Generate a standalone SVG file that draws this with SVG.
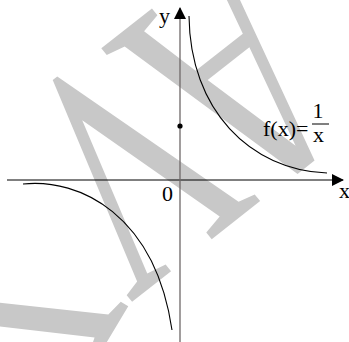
<svg xmlns="http://www.w3.org/2000/svg" width="349" height="342" viewBox="0 0 349 342">
  <defs>
    <style>
      .wm { font-family: "Liberation Serif", "Times New Roman", serif; font-size: 100px; fill: #c8c8c8; }
      .lbl { font-family: "Liberation Serif", "Times New Roman", serif; font-size: 22px; fill: #000; }
      .curve { fill: none; stroke: #000; stroke-width: 1.1; }
    </style>
    <marker id="arrowX" markerWidth="12" markerHeight="12" refX="11" refY="6" orient="auto" markerUnits="userSpaceOnUse">
      <path d="M0,0 L12,6 L0,12 Z" fill="#000"/>
    </marker>
  </defs>
  <rect width="349" height="342" fill="#fff"/>
  <g id="watermark">
    <text class="wm" x="-58.7" y="0" transform="matrix(-1.83 1.44 -2.10 -2.59 124.7 29.9)">A</text>
    <text class="wm" x="0" y="0" transform="matrix(-1.83 1.44 -2.10 -2.59 124.7 29.9)">V</text>
    <text class="wm" x="72.2" y="0" transform="rotate(-21 131 305) matrix(-1.83 1.44 -2.10 -2.59 124.7 29.9)">Y</text>
  </g>
  <g id="connectors">
    <line id="x-axis" x1="7" y1="180" x2="343" y2="180" stroke="#000" stroke-width="1" marker-end="url(#arrowX)"/>
    <line id="y-axis" x1="180" y1="342" x2="180" y2="8" stroke="#6e6868" stroke-width="1.3" marker-end="url(#arrowX)"/>
  </g>
  <g id="graph">
    <path id="branch-right" class="curve" d="M189,16 C190,110 250,170 327,173"/>
    <path id="branch-left" class="curve" d="M23,184 C80,178 155,215 172,330"/>
    <circle id="point" cx="180" cy="126" r="2.6" fill="#000"/>
  </g>
  <g id="labels">
    <text class="lbl" x="159" y="23">y</text>
    <text class="lbl" x="339" y="198">x</text>
    <text class="lbl" x="162" y="201">0</text>
    <g id="formula">
      <text class="lbl" x="263" y="136">f(x)=</text>
      <text class="lbl" x="318" y="118" text-anchor="middle">1</text>
      <line x1="312" y1="124" x2="329" y2="124" stroke="#000" stroke-width="1"/>
      <text class="lbl" x="318.5" y="142" text-anchor="middle">x</text>
    </g>
  </g>
</svg>
